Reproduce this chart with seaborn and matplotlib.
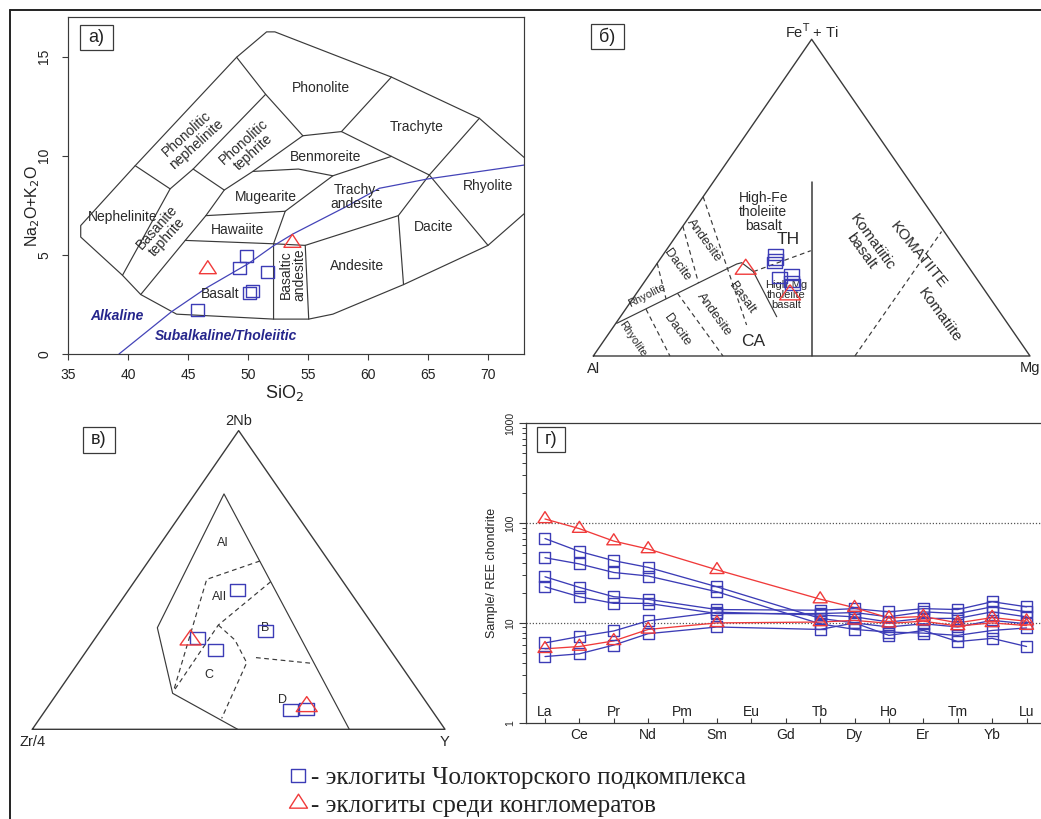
import numpy as np
import matplotlib
matplotlib.use("Agg")
import matplotlib.pyplot as plt
from matplotlib.path import Path
from matplotlib.lines import Line2D
from matplotlib.patches import Rectangle
import seaborn as sns

sns.set_theme(style="white")
plt.rcParams["font.family"] = ["Liberation Sans", "DejaVu Sans"]
plt.rcParams["axes.unicode_minus"] = False

W, H = 1041, 819
BLUE = "#3c3cb6"
RED = "#f03a3a"
INK = "#3a3a3a"

# ---------------- data ----------------
# а) TAS diagram, wt%
tas_sio2_sq = [49.9, 49.3, 51.6, 50.4, 50.1, 45.8]
tas_alk_sq = [4.95, 4.32, 4.15, 3.20, 3.10, 2.22]
tas_sio2_tr = [46.65, 53.7]
tas_alk_tr = [4.27, 5.60]

# б) Jensen cation plot, cation %
jen_fe_sq = [32.2, 30.6, 29.6, 25.8, 24.7, 23.5, 22.7]
jen_al_sq = [42.1, 42.9, 43.6, 41.7, 45.1, 42.8, 43.0]
jen_mg_sq = [25.7, 26.5, 26.8, 32.5, 30.2, 33.7, 34.3]
jen_fe_tr = [27.4, 19.3]
jen_al_tr = [51.4, 45.3]
jen_mg_tr = [21.2, 35.4]

# в) Meschede 2Nb - Zr/4 - Y
mes_nb_sq = [46.6, 33.0, 30.4, 26.6, 6.5, 6.7]
mes_zr_sq = [27.0, 27.1, 44.8, 42.2, 34.3, 30.3]
mes_y_sq = [26.4, 39.9, 24.8, 31.2, 59.2, 63.0]
mes_nb_tr = [29.9, 7.6]
mes_zr_tr = [46.7, 29.7]
mes_y_tr = [23.4, 62.7]

# г) chondrite-normalised REE (Pm, Eu, Gd not determined)
ree_names = ["La", "Ce", "Pr", "Nd", "Pm", "Sm", "Eu", "Gd",
             "Tb", "Dy", "Ho", "Er", "Tm", "Yb", "Lu"]
nan = np.nan
chol_1 = [70, 52, 42, 36, nan, 23.0, nan, nan, 11.1, 10.0, 7.5, 8.4, 6.5, 7.0, 5.8]
chol_2 = [45, 39, 32, 29.5, nan, 20.5, nan, nan, 9.8, 8.6, 8.1, 7.9, 7.5, 8.4, 8.9]
chol_3 = [29, 22.7, 18.3, 17.2, nan, 13.6, nan, nan, 13.4, 13.9, 12.9, 13.9, 13.6, 16.3, 14.5]
chol_4 = [23, 18.3, 15.7, 15.7, nan, 12.4, nan, nan, 12.4, 12.7, 11.5, 12.9, 12.4, 14.5, 12.9]
chol_5 = [6.3, 7.3, 8.3, 10.5, nan, 12.8, nan, nan, 12.0, 11.5, 10.2, 11.1, 11.1, 12.9, 11.5]
chol_6 = [4.6, 4.9, 6.0, 7.8, nan, 9.1, nan, nan, 8.6, 10.0, 9.1, 9.8, 9.1, 10.6, 9.8]
congl_1 = [110, 88, 66, 55, nan, 34, nan, nan, 17.3, 14.2, 11.2, 11.6, 10.0, 11.3, 10.4]
congl_2 = [5.5, 5.8, 6.6, 8.6, nan, 10.0, nan, nan, 10.2, 10.6, 9.9, 10.4, 9.3, 10.0, 9.4]
chol_samples = [chol_1, chol_2, chol_3, chol_4, chol_5, chol_6]
congl_samples = [congl_1, congl_2]

legend_labels = ["- эклогиты Чолокторского подкомплекса",
                 "- эклогиты среди конгломератов"]


# ---------------- helpers ----------------
def box_marker(w, h):
    v = [(-w / 2, -h / 2), (w / 2, -h / 2), (w / 2, h / 2), (-w / 2, h / 2), (0, 0)]
    c = [Path.MOVETO, Path.LINETO, Path.LINETO, Path.LINETO, Path.CLOSEPOLY]
    return Path(v, c), max(w, h) * 0.72


def tri_marker(w, h):
    v = [(0, 2 * h / 3), (-w / 2, -h / 3), (w / 2, -h / 3), (0, 0)]
    c = [Path.MOVETO, Path.LINETO, Path.LINETO, Path.CLOSEPOLY]
    return Path(v, c), 2 * max(2 * h / 3, w / 2) * 0.72


def open_marks(ax, x, y, shape, color, lw=1.0, z=5):
    path, ms = shape
    sns.scatterplot(x=np.asarray(x, float), y=np.asarray(y, float), marker=path,
                    s=ms ** 2, facecolor="none", edgecolor=color, linewidth=lw,
                    ax=ax, zorder=z, legend=False, clip_on=False)


def tern(top, left, right):
    top, left, right = (np.asarray(a, float) for a in (top, left, right))
    s = top + left + right
    t, r = top / s, right / s
    return r + t / 2, t


def polyline(ax, pts, dashed=False, color=INK, lw=0.85):
    pts = np.asarray(pts, float)
    x, y = tern(pts[:, 0], pts[:, 1], pts[:, 2])
    ax.plot(x, y, color=color, lw=lw, ls=(0, (4, 3)) if dashed else "-",
            solid_joinstyle="round", clip_on=False)


def panel_tag(text, x0, y0, x1, y1, size=13):
    fig.add_artist(Rectangle((x0 / W, 1 - y1 / H), (x1 - x0) / W, (y1 - y0) / H,
                             transform=fig.transFigure, fill=False, ec=INK, lw=0.9))
    fig.text((x0 + x1) / 2 / W, 1 - (y0 + y1) / 2 / H, text, ha="center",
             va="center", fontsize=size, color="#222222")


fig = plt.figure(figsize=(W / 100, H / 100), dpi=100)
fig.patch.set_facecolor("white")

# ================= а) TAS =================
ax = fig.add_axes([68 / W, 1 - 354 / H, 456 / W, 337 / H])
ax.set_xlim(35, 73)
ax.set_ylim(0, 17)

P3, P4, P6, P7 = (61.95, 13.97), (69.28, 11.89), (49.05, 14.97), (40.60, 9.50)
P10, P11, P13, P14 = (39.54, 3.97), (41.06, 3.00), (52.13, 1.76), (55.06, 1.76)
P16, P17 = (62.96, 3.50), (70.00, 5.48)
Q1, Q2, Q3, Q4 = (43.51, 8.33), (45.43, 9.33), (51.47, 13.10), (54.57, 11.01)
Q5, Q6, Q7, Q8 = (48.02, 8.27), (50.40, 9.21), (57.79, 11.22), (61.95, 9.97)
Q9, Q10, Q11, Q12 = (57.07, 8.99), (54.20, 9.33), (53.10, 7.20), (46.49, 6.98)
Q13, Q14, Q15, Q16, Q17 = (52.13, 5.56), (44.77, 5.73), (54.77, 5.48), (65.11, 9.03), (62.53, 6.98)
tas_outline = [(73.0, 9.92), P4, P3, (52.24, 16.25), (51.55, 16.25), P6, P7,
               (36.06, 6.48), (36.06, 5.90), P10, P11, (44.05, 2.01), P13, P14,
               (57.07, 2.01), P16, P17, (73.0, 7.07)]
tas_fields = [tas_outline, [P7, Q1, P10], [Q1, Q2, Q3], [P6, Q3, Q4], [Q2, Q5],
              [Q4, Q6, Q5, Q12, Q14, P11], [Q4, Q7, P3], [Q7, Q8, Q16, P17], [P4, Q16],
              [Q6, Q10, Q9, Q8], [Q9, Q11, Q13, P13], [Q12, Q11],
              [Q14, Q13, Q15, Q17, Q16], [Q15, P14], [Q17, P16]]
for seg in tas_fields:
    xs, ys = zip(*seg)
    ax.plot(xs, ys, color=INK, lw=0.85, solid_joinstyle="round")

alk_div = [(39.25, 0), (43.62, 2.13), (46.58, 3.35), (50.03, 4.56), (52.1, 5.45),
           (53.76, 6.06), (58.07, 7.40), (60.95, 8.36), (64.97, 8.83), (73.0, 9.53)]
xs, ys = zip(*alk_div)
ax.plot(xs, ys, color="#4444b8", lw=0.9)

tas_text = [("Phonolite", 56.06, 13.4, 0), ("Trachyte", 64.02, 11.46, 0),
            ("Benmoreite", 56.5, 9.92, 0), ("Rhyolite", 70.0, 8.46, 0),
            ("Trachy-\nandesite", 59.08, 7.9, 0), ("Mugearite", 51.52, 7.94, 0),
            ("Nephelinite", 39.54, 6.93, 0), ("Hawaiite", 49.17, 6.23, 0),
            ("Dacite", 65.49, 6.4, 0), ("Andesite", 59.08, 4.42, 0),
            ("Basalt", 47.67, 3.02, 0), ("Basaltic\nandesite", 53.7, 4.0, 90),
            ("Phonolitic\nnephelinite", 45.29, 10.84, 42),
            ("Phonolitic\ntephrite", 50.03, 10.42, 42),
            ("Basanite\ntephrite", 42.84, 6.15, 48)]
for t, x, y, r in tas_text:
    ax.text(x, y, t, ha="center", va="center", rotation=r, fontsize=10,
            color="#2a2a2a", linespacing=1.0)
ax.text(39.05, 1.93, "Alkaline", color="#26268c", fontsize=10, style="italic",
        weight="bold", ha="center", va="center")
ax.text(48.16, 0.9, "Subalkaline/Tholeiitic", color="#26268c", fontsize=10,
        style="italic", weight="bold", ha="center", va="center")

open_marks(ax, tas_sio2_sq, tas_alk_sq, box_marker(13, 12), BLUE)
open_marks(ax, tas_sio2_tr, tas_alk_tr, tri_marker(17, 13), RED)

ax.set_xticks(range(35, 71, 5))
ax.set_yticks([0, 5, 10, 15])
ax.set_yticklabels(["0", "5", "10", "15"], rotation=90, va="center")
ax.tick_params(bottom=True, left=True, direction="out", length=4, width=0.8,
               color=INK, labelsize=10, labelcolor="#222222")
ax.tick_params(axis="x", pad=6)
ax.tick_params(axis="y", pad=8)
for s in ax.spines.values():
    s.set_color(INK)
    s.set_linewidth(0.85)
ax.set_xlabel("SiO$_2$", fontsize=13, color="#222222", va="center")
ax.xaxis.set_label_coords(0.474, -0.116)
ax.set_ylabel("Na$_2$O+K$_2$O", fontsize=11.5, color="#222222", va="center")
ax.yaxis.set_label_coords(-0.078, 0.44)
ax.grid(False)

# ================= б) Jensen =================
axb = fig.add_axes([593.3 / W, 1 - 356 / H, 436.7 / W, 316.7 / H])
axb.set_xlim(0, 1)
axb.set_ylim(0, 1)
axb.axis("off")
# corners as (Fe+Ti, Al, Mg)
polyline(axb, [(0, 1, 0), (1, 0, 0), (0, 0, 1), (0, 1, 0)], lw=1.0)
polyline(axb, [(0, .5, .5), (.55, .225, .225)], lw=1.1)
polyline(axb, [(0, .401, .599), (.393, .006, .601)], dashed=True)
# tholeiitic / calc-alkaline divide
polyline(axb, [(.1033, .8947, .002), (.2905, .5264, .1832), (.2946, .5129, .1925),
               (.2663, .5004, .2333), (.124, .518, .358)])
polyline(axb, [(.2663, .5004, .2333), (.3325, .3357, .3318)], dashed=True)
# rock-type boundaries: tholeiitic part
polyline(axb, [(.503, .497, 0), (.098, .600, .302)], dashed=True)
polyline(axb, [(.41, .59, 0), (.2305, .6438, .1257)], dashed=True)
polyline(axb, [(.2927, .7073, 0), (.1806, .7432, .0762)], dashed=True)
# rock-type boundaries: calc-alkaline part
polyline(axb, [(.198, .7082, .0938), (0, .703, .297)], dashed=True)
polyline(axb, [(.1478, .8054, .0468), (0, .8245, .1755)], dashed=True)

jen_text = [("High-Fe\ntholeiite\nbasalt", .389, .456, 0, 10),
            ("TH", .4466, .368, 0, 12.5), ("CA", .366, .045, 0, 12.5),
            ("Andesite", .2535, .364, -54, 9.3), ("Dacite", .1924, .287, -54, 9.3),
            ("Rhyolite", .1222, .19, 27, 8), ("Basalt", .3413, .185, -54, 9.3),
            ("Andesite", .2764, .1295, -54, 9.3), ("Dacite", .193, .082, -54, 9.3),
            ("Rhyolite", .0902, .0527, -56, 8),
            ("High-Mg\ntholeiite\nbasalt", .4428, .1926, 0, 8),
            ("Komatiitic\nbasalt", .626, .345, -54, 11),
            ("KOMATIITE", .744, .319, -51, 11), ("Komatiite", .794, .129, -54, 11)]
for t, x, y, r, fs in jen_text:
    axb.text(x, y, t, ha="center", va="center", rotation=r, fontsize=fs,
             color="#2a2a2a", linespacing=1.0)
axb.text(0.5, 1.024, "Fe$^{\\mathsf{T}}$ + Ti", ha="center", va="center", fontsize=10.5)
axb.text(0.0, -0.042, "Al", ha="center", va="center", fontsize=10.5)
axb.text(1.0, -0.038, "Mg", ha="center", va="center", fontsize=10.5)

x, y = tern(jen_fe_sq, jen_al_sq, jen_mg_sq)
open_marks(axb, x, y, box_marker(15, 11), BLUE)
x, y = tern(jen_fe_tr, jen_al_tr, jen_mg_tr)
open_marks(axb, x, y, tri_marker(21, 15), RED)

# ================= в) Meschede =================
axc = fig.add_axes([32.3 / W, 1 - 729.3 / H, 412.7 / W, 298.7 / H])
axc.set_xlim(0, 1)
axc.set_ylim(0, 1)
axc.axis("off")
# corners as (2Nb, Zr/4, Y)
polyline(axc, [(0, 1, 0), (1, 0, 0), (0, 0, 1), (0, 1, 0)], lw=1.0)
polyline(axc, [(0, .5024, .4976), (.1205, .5998, .2798), (.34, .527, .133),
               (.788, .1415, .0705), (0, .232, .768)])
polyline(axc, [(.5635, .1666, .2699), (.502, .3264, .1716), (.126, .5953, .2787)], dashed=True)
polyline(axc, [(.494, .1754, .3306), (.349, .3748, .2762), (.126, .5953, .2787)], dashed=True)
polyline(axc, [(.349, .3748, .2762), (.299, .3595, .3415), (.223, .369, .408),
               (.0368, .5227, .4405)], dashed=True)
polyline(axc, [(.24, .338, .422), (.221, .2125, .5665)], dashed=True)
for t, u, v in [("AI", .461, .623), ("AII", .4548, .442), ("B", .5654, .34),
                ("C", .429, .182), ("D", .6058, .098)]:
    axc.text(u, v, t, ha="center", va="center", fontsize=9, color="#2a2a2a")
axc.text(0.5, 1.033, "2Nb", ha="center", va="center", fontsize=10.5)
axc.text(0.0, -0.0415, "Zr/4", ha="center", va="center", fontsize=10.5)
axc.text(1.0, -0.0415, "Y", ha="center", va="center", fontsize=10.5)

x, y = tern(mes_nb_sq, mes_zr_sq, mes_y_sq)
open_marks(axc, x, y, box_marker(15, 12), BLUE)
x, y = tern(mes_nb_tr, mes_zr_tr, mes_y_tr)
open_marks(axc, x, y, tri_marker(21, 15), RED)

# ================= г) REE =================
axd = fig.add_axes([526 / W, 1 - 722.7 / H, (W - 526) / W, 299.4 / H])
axd.set_yscale("log")
axd.set_ylim(1, 1000)
axd.set_xlim(-0.552, 14.42)
idx = np.arange(len(ree_names))
for lvl in (10, 100):
    axd.axhline(lvl, color="#555555", lw=0.9, ls=(0, (1, 1.5)), zorder=1)
for samples, color, shape in [(chol_samples, BLUE, box_marker(11, 11)),
                              (congl_samples, RED, tri_marker(14, 11))]:
    for vals in samples:
        v = np.asarray(vals, float)
        ok = ~np.isnan(v)
        sns.lineplot(x=idx[ok], y=v[ok], color=color, lw=0.95, ax=axd,
                     estimator=None, sort=False, legend=False, zorder=3)
        open_marks(axd, idx[ok], v[ok], shape, color, lw=1.0, z=4)

axd.set_xticks(idx[0::2], labels=ree_names[0::2])
axd.set_xticks(idx[1::2], labels=ree_names[1::2], minor=True)
axd.tick_params(axis="x", which="both", bottom=True, direction="in", length=3.5,
                width=0.8, color=INK, labelsize=10, labelcolor="#222222")
axd.tick_params(axis="x", which="major", pad=-13)
axd.tick_params(axis="x", which="minor", pad=4)
axd.set_yticks([1, 10, 100, 1000])
axd.set_yticklabels(["1", "10", "100", "1000"], rotation=90, va="center")
axd.tick_params(axis="y", which="major", left=True, direction="out", length=5,
                width=0.8, color=INK, labelsize=7.5, pad=3)
axd.tick_params(axis="y", which="minor", left=True, direction="out", length=3,
                width=0.7, color=INK)
axd.spines["right"].set_visible(False)
for k in ("left", "top", "bottom"):
    axd.spines[k].set_color(INK)
    axd.spines[k].set_linewidth(0.9)
axd.set_xlabel("")
axd.set_ylabel("Sample/ REE chondrite", fontsize=9, color="#222222", va="center")
axd.yaxis.set_label_coords(-0.066, 0.5)
axd.grid(False)

# ---------------- tags, legend, frame ----------------
panel_tag("а)", 80, 25, 113, 50)
panel_tag("б)", 590.7, 24, 624, 49.3)
panel_tag("в)", 82.7, 427.3, 115, 452.7)
panel_tag("г)", 537.4, 427.3, 565.4, 452.3)

sq_path, sq_ms = box_marker(14, 13)
tr_path, tr_ms = tri_marker(18, 14)
handles = [Line2D([], [], ls="none", marker=sq_path, ms=sq_ms, mfc="none", mec=BLUE, mew=1.0),
           Line2D([], [], ls="none", marker=tr_path, ms=tr_ms, mfc="none", mec=RED, mew=1.0)]
fig.legend(handles, legend_labels, loc="upper left",
           bbox_to_anchor=(291.0 / W, 1 - 766.5 / H), frameon=False,
           prop={"family": "Liberation Serif", "size": 18.2}, handlelength=0.55,
           handletextpad=0.25, labelspacing=0.2, borderpad=0, borderaxespad=0,
           labelcolor="#222222")

fig.add_artist(Line2D([9.5 / W, 9.5 / W], [0, 1 - 9.5 / H], transform=fig.transFigure,
                      color="#222222", lw=1.4))
fig.add_artist(Line2D([9.5 / W, 1], [1 - 9.5 / H, 1 - 9.5 / H], transform=fig.transFigure,
                      color="#222222", lw=1.4))

fig.savefig("out.png", dpi=100, facecolor="white")
